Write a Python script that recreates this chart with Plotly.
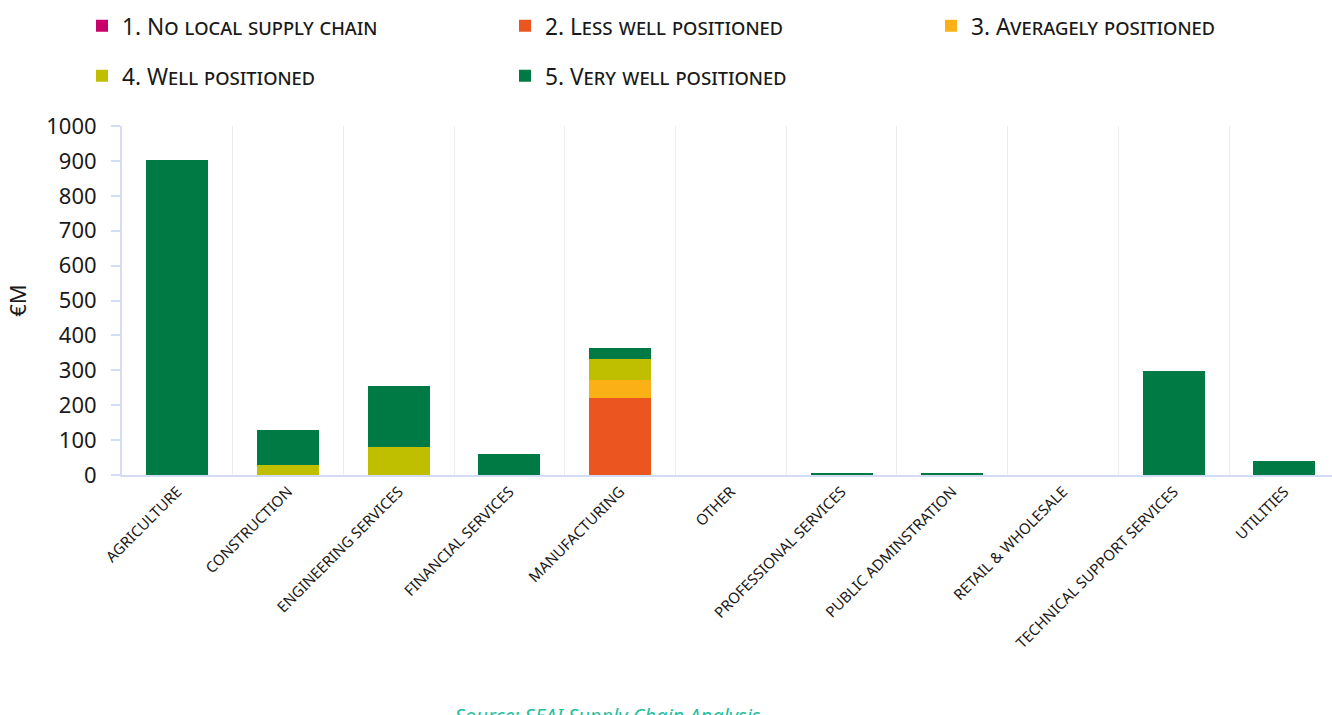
import plotly.graph_objects as go

categories = ["Agriculture", "Construction", "Engineering Services", "Financial Services",
              "Manufacturing", "Other", "Professional Services", "Public Adminstration",
              "Retail & Wholesale", "Technical Support Services", "Utilities"]

no_local = [0, 0, 0, 0, 0, 0, 0, 0, 0, 0, 0]
less_well = [0, 0, 0, 0, 221, 0, 0, 0, 0, 0, 0]
averagely = [0, 0, 0, 0, 51, 0, 0, 0, 0, 0, 0]
well = [0, 28, 81, 0, 60, 0, 0, 0, 0, 0, 0]
very_well = [902, 102, 174, 60, 32, 0, 5, 4, 0, 298, 39]

series_names = ["1. No local supply chain", "2. Less well positioned",
                "3. Averagely positioned", "4. Well positioned", "5. Very well positioned"]
colors = ["#C8006A", "#EA5520", "#FBB116", "#BFBF00", "#007A45"]
legend_ids = ["legend", "legend", "legend2", "legend3", "legend3"]

FONT = "Noto Sans"

fig = go.Figure()
for name, vals, col, lg in zip(series_names, [no_local, less_well, averagely, well, very_well], colors, legend_ids):
    fig.add_trace(go.Bar(
        x=categories, y=vals, name=name, legend=lg,
        marker=dict(color=col, line=dict(width=0)),
        width=0.56,
    ))

legend_common = dict(
    orientation="h", xref="container", yref="container",
    xanchor="left", yanchor="middle", entrywidth=378, entrywidthmode="pixels",
    font=dict(family=FONT, size=22.7, color="#1a1a1a", variant="small-caps"),
    traceorder="normal", itemclick=False, itemdoubleclick=False,
    bgcolor="rgba(0,0,0,0)",
)

fig.update_layout(
    width=1332, height=715, autosize=False,
    margin=dict(l=122, r=0, t=126, b=240),
    paper_bgcolor="white", plot_bgcolor="white",
    barmode="stack",
    font=dict(family=FONT, color="#1a1a1a"),
    legend=dict(x=82/1332, y=1 - 26/715, **legend_common),
    legend2=dict(x=931/1332, y=1 - 26/715, **legend_common),
    legend3=dict(x=82/1332, y=1 - 76/715, **legend_common),
    xaxis=dict(
        type="category", range=[-0.5, 10.43],
        tickson="boundaries", showgrid=True, gridcolor="#EDEDF0", gridwidth=1,
        showline=True, linecolor="#D3DCF5", linewidth=2,
        ticks="", tickangle=-45,
        tickfont=dict(family=FONT, size=15, color="#1a1a1a", textcase="upper"),
        zeroline=False,
    ),
    yaxis=dict(
        range=[0, 1000], dtick=100, showgrid=False,
        showline=True, linecolor="#D3DCF5", linewidth=2,
        ticks="outside", ticklen=9, tickcolor="#D3DCF5", tickwidth=2,
        ticklabelstandoff=10,
        tickfont=dict(family=FONT, size=22, color="#1a1a1a"),
        title=dict(text="€M", font=dict(family=FONT, size=22, color="#1a1a1a"), standoff=14),
        zeroline=False,
    ),
    annotations=[dict(
        text="<i>Source: SEAI Supply Chain Analysis</i>", showarrow=False,
        xref="paper", yref="paper", x=(608 - 122) / 1210, y=(475 - 715) / 349,
        xanchor="center", yanchor="middle",
        font=dict(family=FONT, size=20, color="#1FBF9F"),
    )],
)

fig.write_html("out.html")
